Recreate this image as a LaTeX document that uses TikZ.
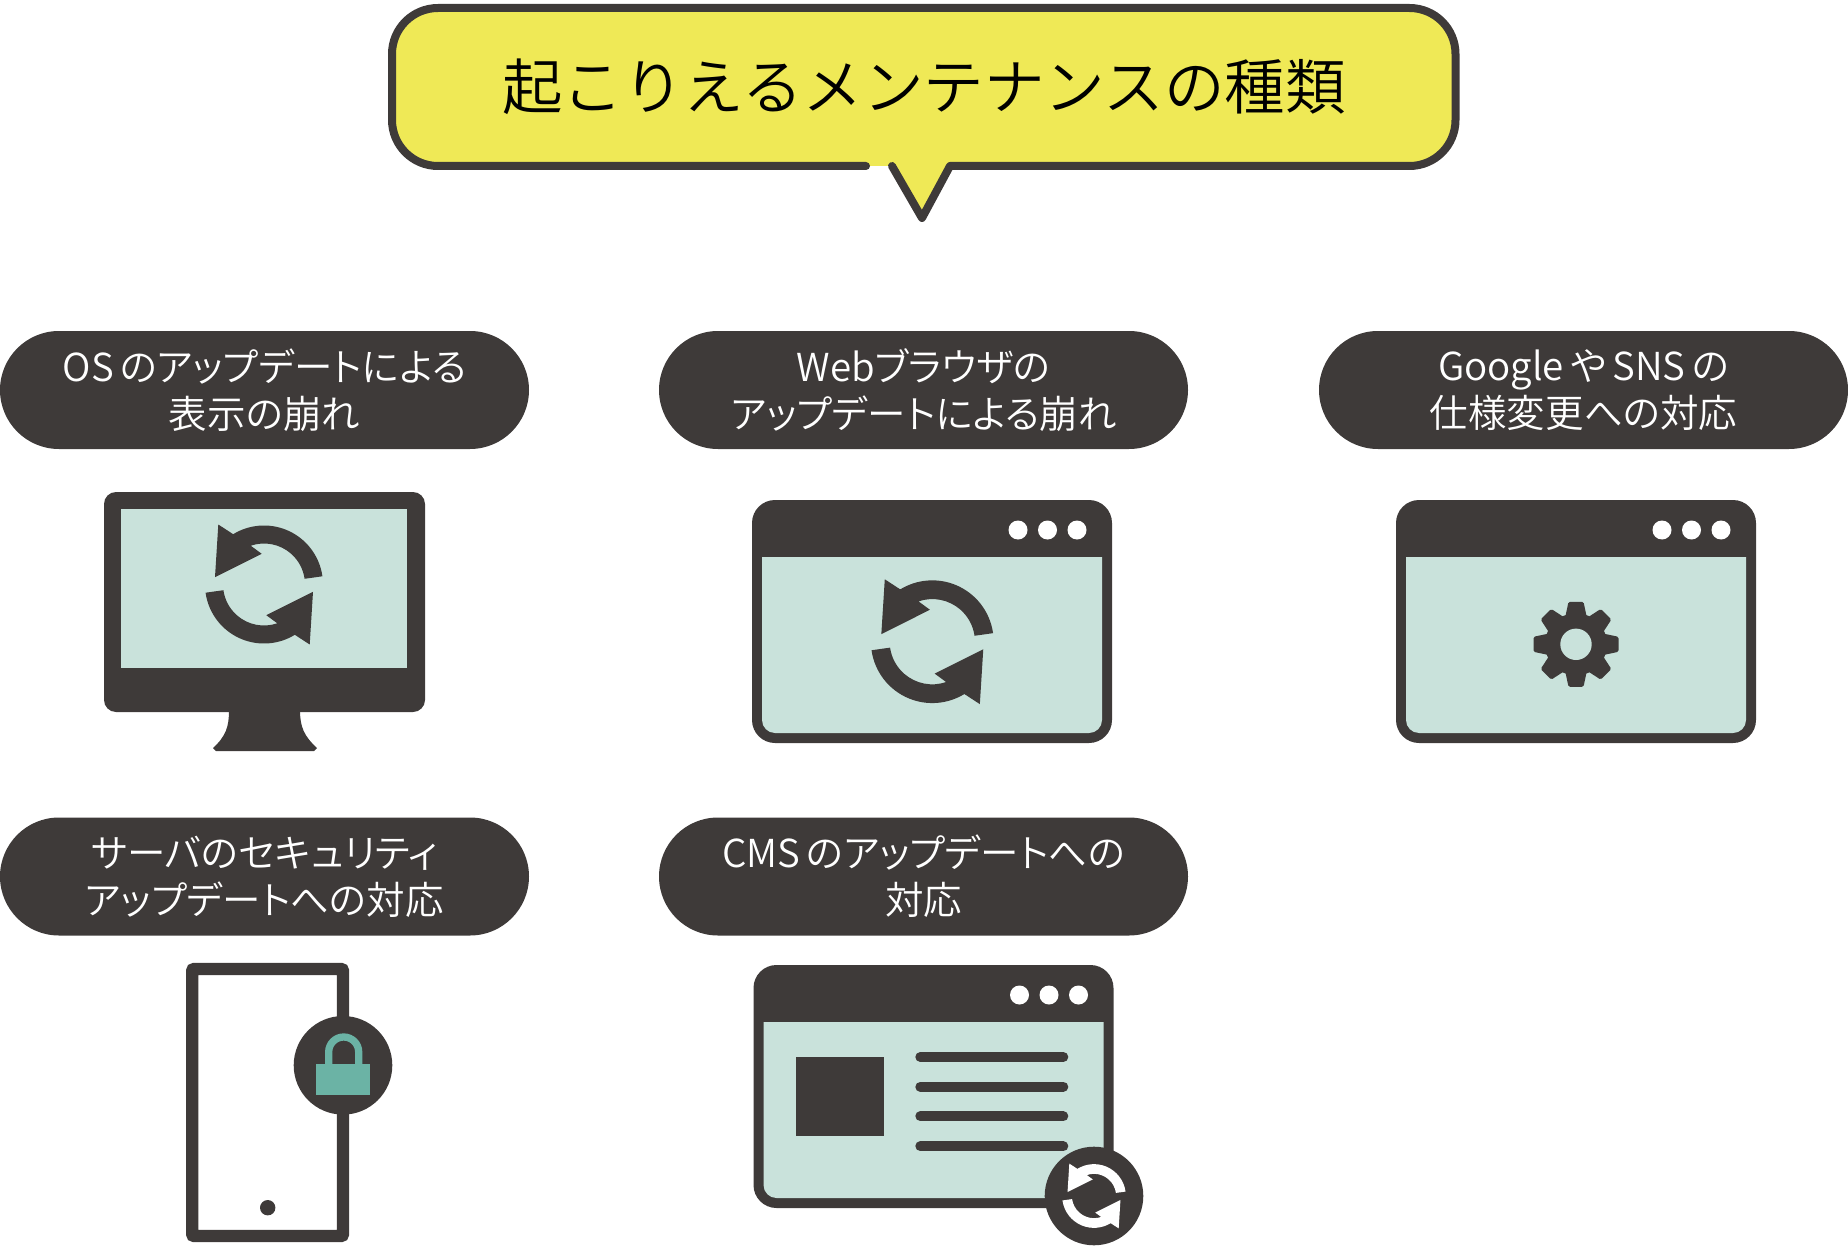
\documentclass[tikz,border=0pt]{standalone}
\usepackage{fontspec}
\setmainfont[RawFeature=+palt]{Noto Sans CJK JP DemiLight}
\newfontfamily\headfont{Noto Sans CJK JP DemiLight}
\usetikzlibrary{positioning}
\definecolor{inkdark}{HTML}{3E3A39}
\definecolor{screenfill}{HTML}{C9E2DB}
\definecolor{locktint}{HTML}{6BB3A5}
\definecolor{titlefill}{HTML}{EFE956}
\newcommand{\gap}{\hspace{.16em}}
\tikzset{
	pillbox/.style = {fill = inkdark, text = white, rounded corners = 59pt, inner sep = 0pt,
		minimum width = 529pt, minimum height = 118pt, align = center,
		font = \fontsize{38.5}{47}\selectfont},
	titletext/.style = {text = black, inner sep = 0pt, font = \headfont\fontsize{60.5}{66}\selectfont},
	pics/refresh/.style = {code = {
		\foreach \r in {0,180}
		\fill [rotate = \r, pic actions] (8:59) arc (8:121.5:59) -- (-45.7,60) -- (-49,7.3)
			-- (-2.3,30.7) -- (108.9:41) arc (108.9:8:41) -- cycle;
	}},
	pics/gear/.style = {code = {
		\fill [inkdark] (0,0) circle (31);
		\foreach \a in {0,45,...,315}
		\fill [inkdark, rotate = \a, rounded corners = 1.5pt]
			(26,-11) -- (42.5,-7.5) -- (42.5,7.5) -- (26,11) -- cycle;
		\fill [screenfill] (0,0) circle (15.7);
	}},
	pics/browser/.style = {code = {
		\fill [inkdark, rounded corners = 23pt] (0,0) rectangle (360,-243);
		\fill [screenfill] (10,-57) -- (350,-57) [rounded corners = 13pt] -- (350,-233)
			-- (10,-233) [sharp corners] -- cycle;
		\foreach \x in {266,295.5,325}
		\fill [white] (\x,-30) circle (9.5);
	}},
}
\begin{document}
\begin{tikzpicture}[x = 1pt, y = 1pt]
\useasboundingbox (0,0) rectangle (1848,-1252);
% headline balloon
\draw [fill = titlefill, draw = inkdark, line width = 8pt, line cap = round, line join = round]
	(892,-166) -- (922,-218) -- (950,-166) [rounded corners = 46pt]
	-- (1455.5,-166) -- (1455.5,-8) -- (392,-8) -- (392,-166) [sharp corners] -- (866,-166);
\node [titletext] (headline) at (924,-87) {起こりえるメンテナンスの種類};
% labels
\node [pillbox] (labelos) at (264.5,-390) {OS\gap のアップデートによる\\表示の崩れ};
\node [pillbox] (labelweb) at (923.5,-390) {Webブラウザの\\アップデートによる崩れ};
\node [pillbox] (labelsns) at (1583.5,-390) {Google\gap や\gap SNS\gap の\\仕様変更への対応};
\node [pillbox] (labelserver) at (264.5,-876.5) {サーバのセキュリティ\\アップデートへの対応};
\node [pillbox] (labelcms) at (923.5,-876.5) {CMS\gap のアップデートへの\\対応};
% monitor
\fill [inkdark] (229,-710) .. controls (229,-727) and (226,-736) .. (213,-748)
	-- (216,-751) -- (314,-751) -- (317,-748) .. controls (304,-736) and (300,-727) .. (300,-710) -- cycle;
\fill [inkdark, rounded corners = 12pt] (104,-492) rectangle (425,-712);
\fill [screenfill] (121,-509) rectangle (407,-668);
\pic [fill = inkdark] at (264,-584.5) {refresh};
% browsers
\pic at (752,-500) {browser};
\pic [fill = inkdark, scale = 1.04] at (932.3,-641.7) {refresh};
\pic at (1396,-500) {browser};
\pic at (1576,-644.3) {gear};
% phone with lock
\draw [inkdark, line width = 12.3pt, rounded corners = 2pt] (192.2,-969) rectangle (343,-1236);
\fill [inkdark] (267.7,-1207.7) circle (7.7);
\fill [inkdark] (343,-1065.3) circle (49.3);
\fill [locktint] (316.3,-1064) rectangle (370,-1094.7);
\draw [locktint, line width = 7.3pt] (328.7,-1066) -- (328.7,-1052) arc (180:0:15) -- (358.7,-1066);
% cms page
\pic at (753.5,-965) {browser};
\fill [inkdark] (796,-1057) rectangle (883.7,-1136);
\foreach \y in {1057,1086.7,1116.3,1146.3}
\draw [inkdark, line width = 10pt, line cap = round] (920.3,-\y) -- (1063.3,-\y);
\fill [inkdark] (1094,-1196) circle (49.3);
\pic [fill = white, scale = 0.54] at (1094,-1196) {refresh};
\end{tikzpicture}
\end{document}
